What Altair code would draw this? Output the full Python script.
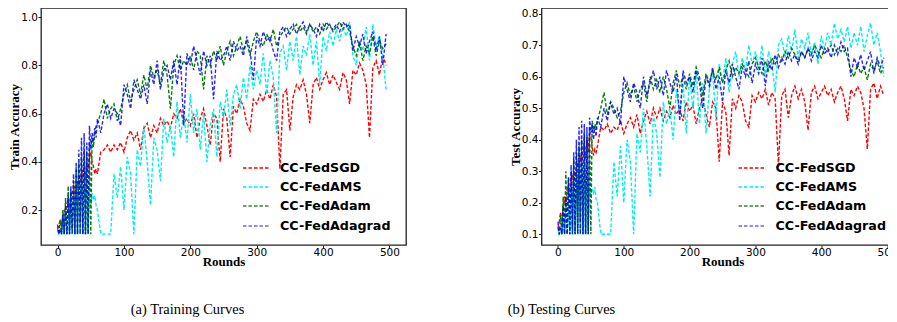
import altair as alt
import pandas as pd

# rounds: every 2 rounds for the first 60, then every 5 rounds
rounds = list(range(0, 60, 2)) + list(range(60, 500, 5))
names = ["CC-FedSGD", "CC-FedAMS", "CC-FedAdam", "CC-FedAdagrad"]
line_colors = ["#ff0000", "#00eeee", "#008000", "#0000ff"]
legend_colors = ["#ff0000", "#00eeee", "#2e8b2e", "#6666ff"]

# ---------------- Training accuracy ----------------
train_sgd = ([0.12, 0.14, 0.16, 0.13, 0.18, 0.20, 0.17, 0.22, 0.25, 0.21,
              0.26, 0.28, 0.24, 0.30, 0.27, 0.32, 0.29, 0.34, 0.31, 0.36,
              0.38, 0.33, 0.40, 0.37, 0.42, 0.44, 0.40, 0.38, 0.35, 0.37]
             + [0.35, 0.44, 0.45, 0.47, 0.44, 0.47, 0.45, 0.48,
                0.44, 0.50, 0.53, 0.49, 0.52, 0.45, 0.54, 0.56, 0.50, 0.55,
                0.52, 0.58, 0.55, 0.57, 0.54, 0.60, 0.58, 0.62, 0.56, 0.58,
                0.55, 0.60, 0.50, 0.58, 0.62, 0.55, 0.47, 0.60, 0.58, 0.40,
                0.62, 0.58, 0.42, 0.63, 0.60, 0.66, 0.63, 0.56, 0.53, 0.66,
                0.64, 0.68, 0.65, 0.70, 0.66, 0.72, 0.67, 0.37, 0.68, 0.70,
                0.53, 0.67, 0.72, 0.70, 0.74, 0.68, 0.56, 0.72, 0.75, 0.70,
                0.74, 0.77, 0.72, 0.76, 0.73, 0.70, 0.77, 0.74, 0.64, 0.78,
                0.76, 0.81, 0.78, 0.72, 0.50, 0.79, 0.82, 0.76, 0.84, 0.80])
train_ams = ([0.10, 0.10, 0.12, 0.10, 0.15, 0.10, 0.20, 0.10, 0.18, 0.10,
              0.25, 0.10, 0.28, 0.10, 0.30, 0.10, 0.33, 0.10, 0.35, 0.10,
              0.30, 0.10, 0.28, 0.12, 0.26, 0.22, 0.27, 0.24, 0.26, 0.22]
             + [0.20, 0.10, 0.10, 0.10, 0.10, 0.35, 0.25, 0.38,
                0.20, 0.42, 0.35, 0.10, 0.45, 0.38, 0.55, 0.40, 0.22, 0.50,
                0.45, 0.32, 0.58, 0.48, 0.55, 0.42, 0.65, 0.50, 0.60, 0.48,
                0.68, 0.52, 0.62, 0.45, 0.60, 0.40, 0.55, 0.62, 0.42, 0.65,
                0.58, 0.70, 0.55, 0.68, 0.72, 0.62, 0.75, 0.66, 0.80, 0.70,
                0.78, 0.72, 0.85, 0.68, 0.82, 0.75, 0.52, 0.85, 0.88, 0.78,
                0.90, 0.82, 0.92, 0.76, 0.88, 0.84, 0.93, 0.80, 0.90, 0.72,
                0.92, 0.86, 0.94, 0.88, 0.95, 0.90, 0.96, 0.92, 0.98, 0.84,
                0.80, 0.90, 0.86, 0.96, 0.82, 0.97, 0.88, 0.92, 0.84, 0.70])
train_adam = ([0.12, 0.10, 0.16, 0.10, 0.20, 0.10, 0.25, 0.10, 0.30, 0.10,
               0.28, 0.12, 0.32, 0.10, 0.38, 0.10, 0.40, 0.15, 0.42, 0.10,
               0.45, 0.10, 0.44, 0.10, 0.48, 0.10, 0.50, 0.46, 0.52, 0.55]
              + [0.56, 0.60, 0.66, 0.58, 0.62, 0.64, 0.57, 0.62,
                 0.68, 0.72, 0.65, 0.70, 0.74, 0.68, 0.76, 0.70, 0.80, 0.75,
                 0.78, 0.72, 0.82, 0.76, 0.62, 0.80, 0.84, 0.78, 0.82, 0.80,
                 0.84, 0.78, 0.86, 0.84, 0.70, 0.84, 0.80, 0.86, 0.82, 0.88,
                 0.80, 0.86, 0.90, 0.84, 0.88, 0.92, 0.86, 0.90, 0.84, 0.90,
                 0.94, 0.90, 0.88, 0.93, 0.90, 0.95, 0.88, 0.92, 0.94, 0.96,
                 0.93, 0.95, 0.97, 0.94, 0.96, 0.93, 0.97, 0.94, 0.96, 0.93,
                 0.97, 0.95, 0.97, 0.94, 0.96, 0.98, 0.95, 0.97, 0.94, 0.88,
                 0.84, 0.90, 0.82, 0.88, 0.85, 0.92, 0.84, 0.90, 0.87, 0.89])
train_adagrad = ([0.14, 0.10, 0.12, 0.10, 0.18, 0.10, 0.22, 0.10, 0.26, 0.10,
                  0.30, 0.10, 0.35, 0.10, 0.40, 0.10, 0.45, 0.10, 0.50, 0.10,
                  0.52, 0.10, 0.48, 0.10, 0.55, 0.45, 0.52, 0.48, 0.54, 0.50]
                 + [0.58, 0.52, 0.60, 0.64, 0.58, 0.62, 0.60, 0.55,
                    0.72, 0.68, 0.62, 0.74, 0.70, 0.66, 0.72, 0.64, 0.78, 0.72,
                    0.82, 0.70, 0.78, 0.80, 0.74, 0.82, 0.72, 0.84, 0.55, 0.85,
                    0.80, 0.88, 0.82, 0.76, 0.86, 0.80, 0.84, 0.66, 0.86, 0.82,
                    0.84, 0.88, 0.82, 0.90, 0.86, 0.88, 0.84, 0.92, 0.86, 0.74,
                    0.92, 0.88, 0.94, 0.90, 0.92, 0.86, 0.82, 0.94, 0.96, 0.92,
                    0.95, 0.97, 0.93, 0.96, 0.98, 0.94, 0.97, 0.95, 0.92, 0.97,
                    0.94, 0.98, 0.96, 0.95, 0.97, 0.94, 0.98, 0.96, 0.97, 0.86,
                    0.92, 0.88, 0.93, 0.85, 0.90, 0.94, 0.86, 0.92, 0.80, 0.93])

# ---------------- Testing accuracy ----------------
test_sgd = ([0.12, 0.14, 0.17, 0.13, 0.19, 0.22, 0.18, 0.24, 0.26, 0.22,
             0.27, 0.29, 0.25, 0.30, 0.28, 0.33, 0.30, 0.35, 0.32, 0.37,
             0.39, 0.34, 0.40, 0.36, 0.42, 0.41, 0.38, 0.35, 0.37, 0.36]
            + [0.38, 0.44, 0.43, 0.45, 0.42, 0.44, 0.43, 0.46,
               0.42, 0.45, 0.47, 0.44, 0.48, 0.42, 0.46, 0.49, 0.45, 0.50,
               0.47, 0.50, 0.46, 0.49, 0.47, 0.51, 0.48, 0.50, 0.46, 0.52,
               0.49, 0.51, 0.45, 0.50, 0.53, 0.48, 0.44, 0.52, 0.50, 0.33,
               0.52, 0.49, 0.35, 0.53, 0.50, 0.54, 0.52, 0.46, 0.44, 0.54,
               0.52, 0.55, 0.53, 0.56, 0.51, 0.55, 0.53, 0.32, 0.54, 0.56,
               0.47, 0.54, 0.57, 0.53, 0.56, 0.52, 0.43, 0.55, 0.57, 0.53,
               0.55, 0.57, 0.54, 0.56, 0.52, 0.55, 0.57, 0.53, 0.46, 0.56,
               0.54, 0.57, 0.55, 0.50, 0.37, 0.56, 0.58, 0.53, 0.57, 0.54])
test_ams = ([0.10, 0.10, 0.12, 0.10, 0.15, 0.10, 0.20, 0.10, 0.18, 0.10,
             0.25, 0.10, 0.28, 0.10, 0.30, 0.10, 0.33, 0.10, 0.35, 0.10,
             0.30, 0.10, 0.27, 0.12, 0.25, 0.22, 0.24, 0.23, 0.25, 0.21]
            + [0.20, 0.10, 0.10, 0.10, 0.10, 0.33, 0.22, 0.38,
               0.20, 0.40, 0.33, 0.10, 0.42, 0.36, 0.50, 0.38, 0.22, 0.48,
               0.42, 0.28, 0.52, 0.45, 0.50, 0.40, 0.56, 0.48, 0.58, 0.42,
               0.60, 0.50, 0.62, 0.45, 0.58, 0.42, 0.56, 0.62, 0.46, 0.64,
               0.58, 0.66, 0.55, 0.64, 0.68, 0.60, 0.66, 0.62, 0.70, 0.64,
               0.68, 0.62, 0.70, 0.60, 0.68, 0.64, 0.55, 0.70, 0.72, 0.66,
               0.73, 0.68, 0.75, 0.66, 0.72, 0.69, 0.74, 0.67, 0.71, 0.64,
               0.73, 0.69, 0.74, 0.70, 0.77, 0.72, 0.75, 0.71, 0.76, 0.69,
               0.74, 0.70, 0.76, 0.68, 0.73, 0.77, 0.70, 0.74, 0.68, 0.60])
test_adam = ([0.12, 0.10, 0.16, 0.10, 0.22, 0.10, 0.30, 0.10, 0.28, 0.10,
              0.30, 0.12, 0.34, 0.10, 0.36, 0.10, 0.38, 0.14, 0.40, 0.10,
              0.42, 0.10, 0.41, 0.10, 0.44, 0.10, 0.46, 0.43, 0.45, 0.44]
             + [0.46, 0.50, 0.55, 0.48, 0.52, 0.50, 0.47, 0.49,
                0.55, 0.58, 0.54, 0.57, 0.52, 0.56, 0.58, 0.52, 0.60, 0.56,
                0.59, 0.55, 0.60, 0.56, 0.50, 0.58, 0.62, 0.57, 0.60, 0.56,
                0.61, 0.57, 0.63, 0.60, 0.54, 0.61, 0.58, 0.62, 0.59, 0.63,
                0.58, 0.62, 0.65, 0.60, 0.63, 0.61, 0.64, 0.62, 0.60, 0.64,
                0.66, 0.63, 0.61, 0.65, 0.62, 0.66, 0.64, 0.67, 0.65, 0.68,
                0.66, 0.69, 0.67, 0.65, 0.68, 0.66, 0.69, 0.67, 0.70, 0.68,
                0.66, 0.69, 0.68, 0.70, 0.67, 0.69, 0.68, 0.70, 0.66, 0.62,
                0.60, 0.64, 0.61, 0.63, 0.59, 0.64, 0.62, 0.65, 0.61, 0.63])
test_adagrad = ([0.14, 0.10, 0.12, 0.10, 0.19, 0.10, 0.22, 0.10, 0.28, 0.10,
                 0.32, 0.10, 0.36, 0.10, 0.40, 0.10, 0.44, 0.10, 0.46, 0.10,
                 0.45, 0.10, 0.44, 0.10, 0.47, 0.42, 0.45, 0.40, 0.44, 0.41]
                + [0.47, 0.44, 0.50, 0.46, 0.52, 0.48, 0.50, 0.45,
                   0.60, 0.56, 0.52, 0.58, 0.55, 0.50, 0.60, 0.54, 0.58, 0.62,
                   0.56, 0.60, 0.54, 0.62, 0.58, 0.55, 0.61, 0.46, 0.62, 0.58,
                   0.60, 0.55, 0.62, 0.58, 0.50, 0.60, 0.57, 0.63, 0.56, 0.60,
                   0.52, 0.62, 0.58, 0.64, 0.60, 0.56, 0.63, 0.60, 0.65, 0.58,
                   0.64, 0.61, 0.66, 0.57, 0.65, 0.62, 0.67, 0.63, 0.66, 0.64,
                   0.68, 0.65, 0.67, 0.64, 0.68, 0.66, 0.69, 0.65, 0.68, 0.66,
                   0.70, 0.67, 0.69, 0.66, 0.70, 0.67, 0.71, 0.68, 0.69, 0.60,
                   0.66, 0.63, 0.67, 0.62, 0.65, 0.68, 0.61, 0.66, 0.63, 0.66])

train_series = [train_sgd, train_ams, train_adam, train_adagrad]
test_series = [test_sgd, test_ams, test_adam, test_adagrad]

DASH = [3.5, 2]
LEG_Y = [160, 179, 198, 218]
PLOT_H = 237


def panel(series, ydomain, yticks, ytitle, xdomain, width, caption, dx, leg_x):
    xaxis = alt.Axis(values=[0, 100, 200, 300, 400, 500], title="Rounds",
                     titleFont="Liberation Serif", titleFontSize=13,
                     titleFontWeight="bold", titleColor="black",
                     labelFont="DejaVu Sans", labelFontSize=10.5, labelColor="black",
                     tickColor="#222222", tickSize=3, domain=False, grid=False,
                     labelPadding=-1, titlePadding=-2)
    yaxis = alt.Axis(values=yticks, format=".1f", title=ytitle,
                     titleFont="Liberation Serif", titleFontSize=13,
                     titleFontWeight="bold", titleColor="black",
                     labelFont="DejaVu Sans", labelFontSize=10.5, labelColor="black",
                     tickColor="#222222", tickSize=3, domain=False, grid=False,
                     labelPadding=0.5, titlePadding=-1)
    layers = []
    for i, (vals, col) in enumerate(zip(series, line_colors)):
        d = pd.DataFrame({"round": rounds, "acc": vals})
        layers.append(
            alt.Chart(d).mark_line(color=col, strokeDash=DASH, strokeWidth=1.4,
                                   clip=True, opacity=0.85 if i == 3 else 1)
            .encode(
                x=alt.X("round:Q", scale=alt.Scale(domain=xdomain, nice=False, zero=False), axis=xaxis),
                y=alt.Y("acc:Q", scale=alt.Scale(domain=ydomain, nice=False, zero=False), axis=yaxis),
            )
        )
    for i, (name, col) in enumerate(zip(names, legend_colors)):
        layers.append(
            alt.Chart(alt.Data(values=[{}])).mark_rule(color=col, strokeDash=DASH, strokeWidth=1.4)
            .encode(x=alt.value(leg_x), x2=alt.value(leg_x + 27), y=alt.value(LEG_Y[i]))
        )
        layers.append(
            alt.Chart(alt.Data(values=[{}])).mark_text(text=name, align="left", baseline="middle",
                                                       font="DejaVu Sans", fontWeight="bold",
                                                       fontSize=12.7, color="black")
            .encode(x=alt.value(leg_x + 37), y=alt.value(LEG_Y[i]))
        )
    return alt.layer(*layers).properties(
        width=width, height=PLOT_H,
        title=alt.TitleParams(caption, orient="bottom", font="Liberation Serif", fontSize=14.5,
                              fontWeight="normal", color="black", dx=dx, offset=34),
    )


left = panel(train_series, [0.055, 1.038], [0.2, 0.4, 0.6, 0.8, 1.0], "Train Accuracy",
             [-25, 525], 365, "(a)  Training Curves", -36, 202)
right = panel(test_series, [0.066, 0.818], [0.1, 0.2, 0.3, 0.4, 0.5, 0.6, 0.7, 0.8], "Test Accuracy",
              [-25, 525], 362, "(b)  Testing Curves", -161, 197)

chart = alt.hconcat(left, right, spacing=97.5).configure_view(
    stroke="#222222", strokeWidth=1.3
).properties(padding={"left": 0, "top": -1, "right": -17.5, "bottom": 0}, background="white")

chart.save("out.html", embed_options={"renderer": "svg", "actions": False})
